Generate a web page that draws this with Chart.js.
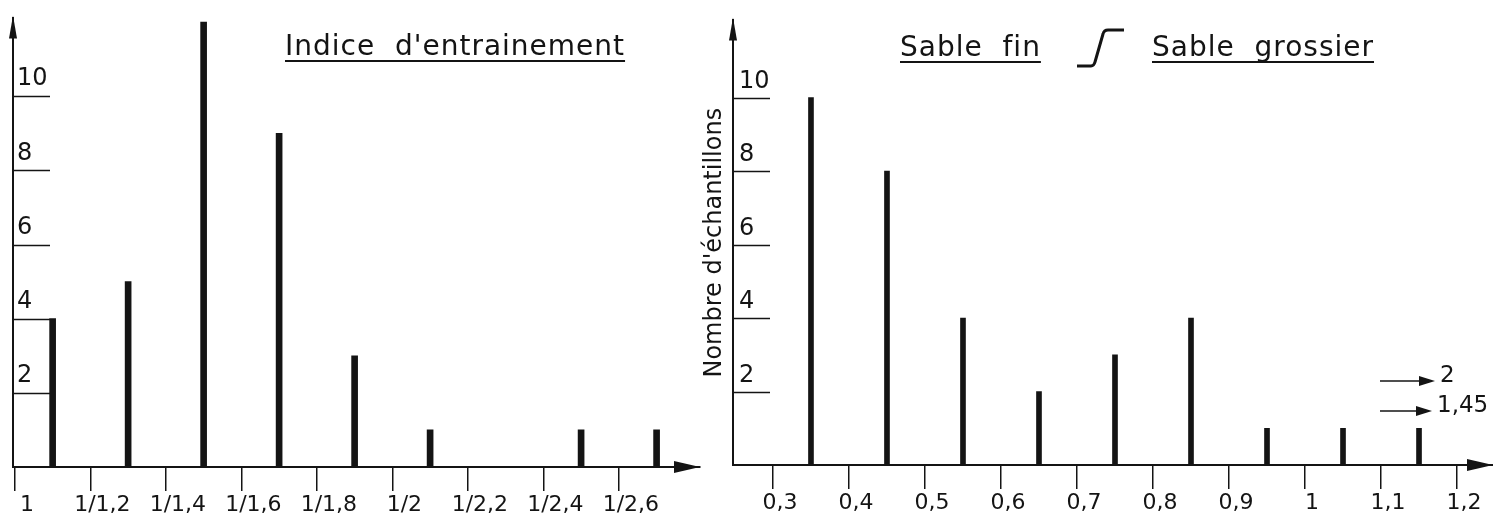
<!DOCTYPE html>
<html>
<head>
<meta charset="utf-8">
<script src="https://cdn.jsdelivr.net/npm/chart.js@4.4.3/dist/chart.umd.min.js"></script>
<style>
  html, body { margin: 0; padding: 0; background: #fff; }
  #wrap { position: relative; width: 1493px; height: 527px; overflow: hidden; }
  .box { position: absolute; top: 0; height: 527px; }
  #leftBox { left: 0; width: 720px; }
  #rightBox { left: 690px; width: 803px; }
</style>
</head>
<body>
<div id="wrap">
  <div class="box" id="leftBox"><canvas id="leftChart"></canvas></div>
  <div class="box" id="rightBox"><canvas id="rightChart"></canvas></div>
</div>
<script>
// left panel: indice d'entrainement
const leftTickValues = [1, 1.2, 1.4, 1.6, 1.8, 2, 2.2, 2.4, 2.6];
const leftTickLabels = ['1', '1/1,2', '1/1,4', '1/1,6', '1/1,8', '1/2', '1/2,2', '1/2,4', '1/2,6'];
const leftBarX = [1.1, 1.3, 1.5, 1.7, 1.9, 2.1, 2.5, 2.7];
const leftCounts = [4, 5, 12, 9, 3, 1, 1, 1];

// right panel: grain size (mm)
const rightTickValues = [0.3, 0.4, 0.5, 0.6, 0.7, 0.8, 0.9, 1, 1.1, 1.2];
const rightTickLabels = ['0,3', '0,4', '0,5', '0,6', '0,7', '0,8', '0,9', '1', '1,1', '1,2'];
const rightBarX = [0.35, 0.45, 0.55, 0.65, 0.75, 0.85, 0.95, 1.05, 1.15];
const rightCounts = [10, 8, 4, 2, 3, 4, 1, 1, 1];
const offScaleLabels = ['2', '1,45'];

const countTicks = [2, 4, 6, 8, 10];
const yAxisTitle = "Nombre d'échantillons";
const leftTitle = "Indice  d'entrainement";
const fineTitle = 'Sable  fin';
const coarseTitle = 'Sable  grossier';

const ink = '#141414';
Chart.defaults.font.family = '"DejaVu Sans", sans-serif';
Chart.defaults.color = ink;

function labelFor(values, labels) {
  return v => labels[values.findIndex(t => Math.abs(t - v) < 1e-6)];
}

function underlined(ctx, text, x, y, lineY) {
  ctx.fillText(text, x, y);
  const w = ctx.measureText(text).width;
  ctx.lineWidth = 2;
  ctx.beginPath();
  ctx.moveTo(x, lineY);
  ctx.lineTo(x + w, lineY);
  ctx.stroke();
}

// short tick strokes, arrow heads, titles
const decorPlugin = {
  id: 'decor',
  afterDraw(chart, args, opts) {
    const { ctx, chartArea: a, scales } = chart;
    ctx.save();
    ctx.strokeStyle = ink;
    ctx.fillStyle = ink;

    ctx.lineWidth = 1.5;
    scales.y.ticks.forEach(t => {
      const py = Math.round(scales.y.getPixelForValue(t.value)) + 0.5;
      ctx.beginPath();
      ctx.moveTo(a.left, py);
      ctx.lineTo(a.left + opts.tickLine, py);
      ctx.stroke();
    });

    // up arrow on the count axis
    ctx.beginPath();
    ctx.moveTo(a.left, a.top - 3);
    ctx.lineTo(a.left - 4, a.top + 20);
    ctx.lineTo(a.left + 4, a.top + 20);
    ctx.closePath();
    ctx.fill();

    // right arrow on the x axis
    const tip = a.right + opts.arrowOver;
    ctx.beginPath();
    ctx.moveTo(tip, a.bottom);
    ctx.lineTo(tip - 26, a.bottom - 6);
    ctx.lineTo(tip - 26, a.bottom + 6);
    ctx.closePath();
    ctx.fill();
    ctx.lineWidth = 2;
    ctx.beginPath();
    ctx.moveTo(a.right - 2, a.bottom);
    ctx.lineTo(tip, a.bottom);
    ctx.stroke();

    ctx.font = '28px "DejaVu Sans"';
    ctx.letterSpacing = '1px';
    ctx.textBaseline = 'alphabetic';
    opts.titles.forEach(t => underlined(ctx, t.text, t.x, t.y, t.y + 6));
    ctx.letterSpacing = '0px';

    if (opts.step) {
      ctx.lineWidth = 3;
      ctx.beginPath();
      ctx.moveTo(387, 66);
      ctx.lineTo(401, 66);
      ctx.quadraticCurveTo(404, 66, 405, 62);
      ctx.lineTo(413, 34);
      ctx.quadraticCurveTo(414, 30, 418, 30);
      ctx.lineTo(434, 30);
      ctx.stroke();
    }

    if (opts.offScale) {
      ctx.font = '23px "DejaVu Sans"';
      ctx.textBaseline = 'middle';
      ctx.lineWidth = 1.5;
      const rows = [381, 411];
      const ends = [a.right - 55, a.right - 58];
      offScaleLabels.forEach((txt, i) => {
        const y = rows[i];
        const x0 = a.right - 110, x1 = ends[i];
        ctx.beginPath();
        ctx.moveTo(x0, y);
        ctx.lineTo(x1 - 10, y);
        ctx.stroke();
        ctx.beginPath();
        ctx.moveTo(x1, y);
        ctx.lineTo(x1 - 16, y - 5);
        ctx.lineTo(x1 - 16, y + 5);
        ctx.closePath();
        ctx.fill();
        ctx.fillText(txt, x1 + 5, y - 5);
      });
    }
    ctx.restore();
  }
};

function xScale(min, max, values, labels, height, labelOffset) {
  return {
    type: 'linear',
    min: min,
    max: max,
    offset: false,
    afterBuildTicks: s => { s.ticks = values.map(v => ({ value: v })); },
    afterFit: s => { s.height = height; },
    ticks: {
      callback: labelFor(values, labels),
      autoSkip: false,
      maxRotation: 0,
      font: { size: 22 },
      color: ink,
      padding: 1,
      labelOffset: labelOffset
    },
    grid: { display: true, drawOnChartArea: false, drawTicks: true, tickLength: 24, color: ink, lineWidth: 1.5, offset: false },
    border: { display: true, color: ink, width: 2 }
  };
}

function yScale(width, pad, offset, title) {
  return {
    type: 'linear',
    min: 0,
    max: 12.1,
    afterBuildTicks: s => { s.ticks = countTicks.map(v => ({ value: v })); },
    afterFit: s => { s.width = width; },
    ticks: { mirror: true, padding: pad, labelOffset: offset, font: { size: 24 }, color: ink },
    grid: { display: false },
    border: { display: true, color: ink, width: 2 },
    title: title
  };
}

new Chart(document.getElementById('leftChart'), {
  type: 'bar',
  data: {
    datasets: [{
      data: leftBarX.map((x, i) => ({ x: x, y: leftCounts[i] })),
      backgroundColor: ink,
      borderWidth: 0,
      barThickness: 6
    }]
  },
  options: {
    responsive: true,
    maintainAspectRatio: false,
    animation: false,
    layout: { padding: { top: 15, left: 13, right: 20, bottom: 0 } },
    plugins: {
      legend: { display: false },
      tooltip: { enabled: false },
      decor: {
        tickLine: 37,
        arrowOver: 0,
        titles: [{ text: leftTitle, x: 285, y: 55 }]
      }
    },
    scales: {
      x: xScale(0.995, 2.815, leftTickValues, leftTickLabels, 60, 12),
      y: yScale(0, 4, -17, { display: false })
    }
  },
  plugins: [decorPlugin]
});

new Chart(document.getElementById('rightChart'), {
  type: 'bar',
  data: {
    datasets: [{
      data: rightBarX.map((x, i) => ({ x: x, y: rightCounts[i] })),
      backgroundColor: ink,
      borderWidth: 0,
      barThickness: 5
    }]
  },
  options: {
    responsive: true,
    maintainAspectRatio: false,
    animation: false,
    layout: { padding: { top: 12, left: 0, right: 3, bottom: 0 } },
    plugins: {
      legend: { display: false },
      tooltip: { enabled: false },
      decor: {
        tickLine: 37,
        arrowOver: 3,
        step: true,
        offScale: true,
        titles: [
          { text: fineTitle, x: 210, y: 56 },
          { text: coarseTitle, x: 462, y: 56 }
        ]
      }
    },
    scales: {
      x: xScale(0.2474, 1.2434, rightTickValues, rightTickLabels, 62, 7),
      y: yScale(43, 6, -16, {
        display: true,
        text: yAxisTitle,
        color: ink,
        font: { size: 24 },
        padding: { top: 10, bottom: 0 }
      })
    }
  },
  plugins: [decorPlugin]
});
</script>
</body>
</html>
